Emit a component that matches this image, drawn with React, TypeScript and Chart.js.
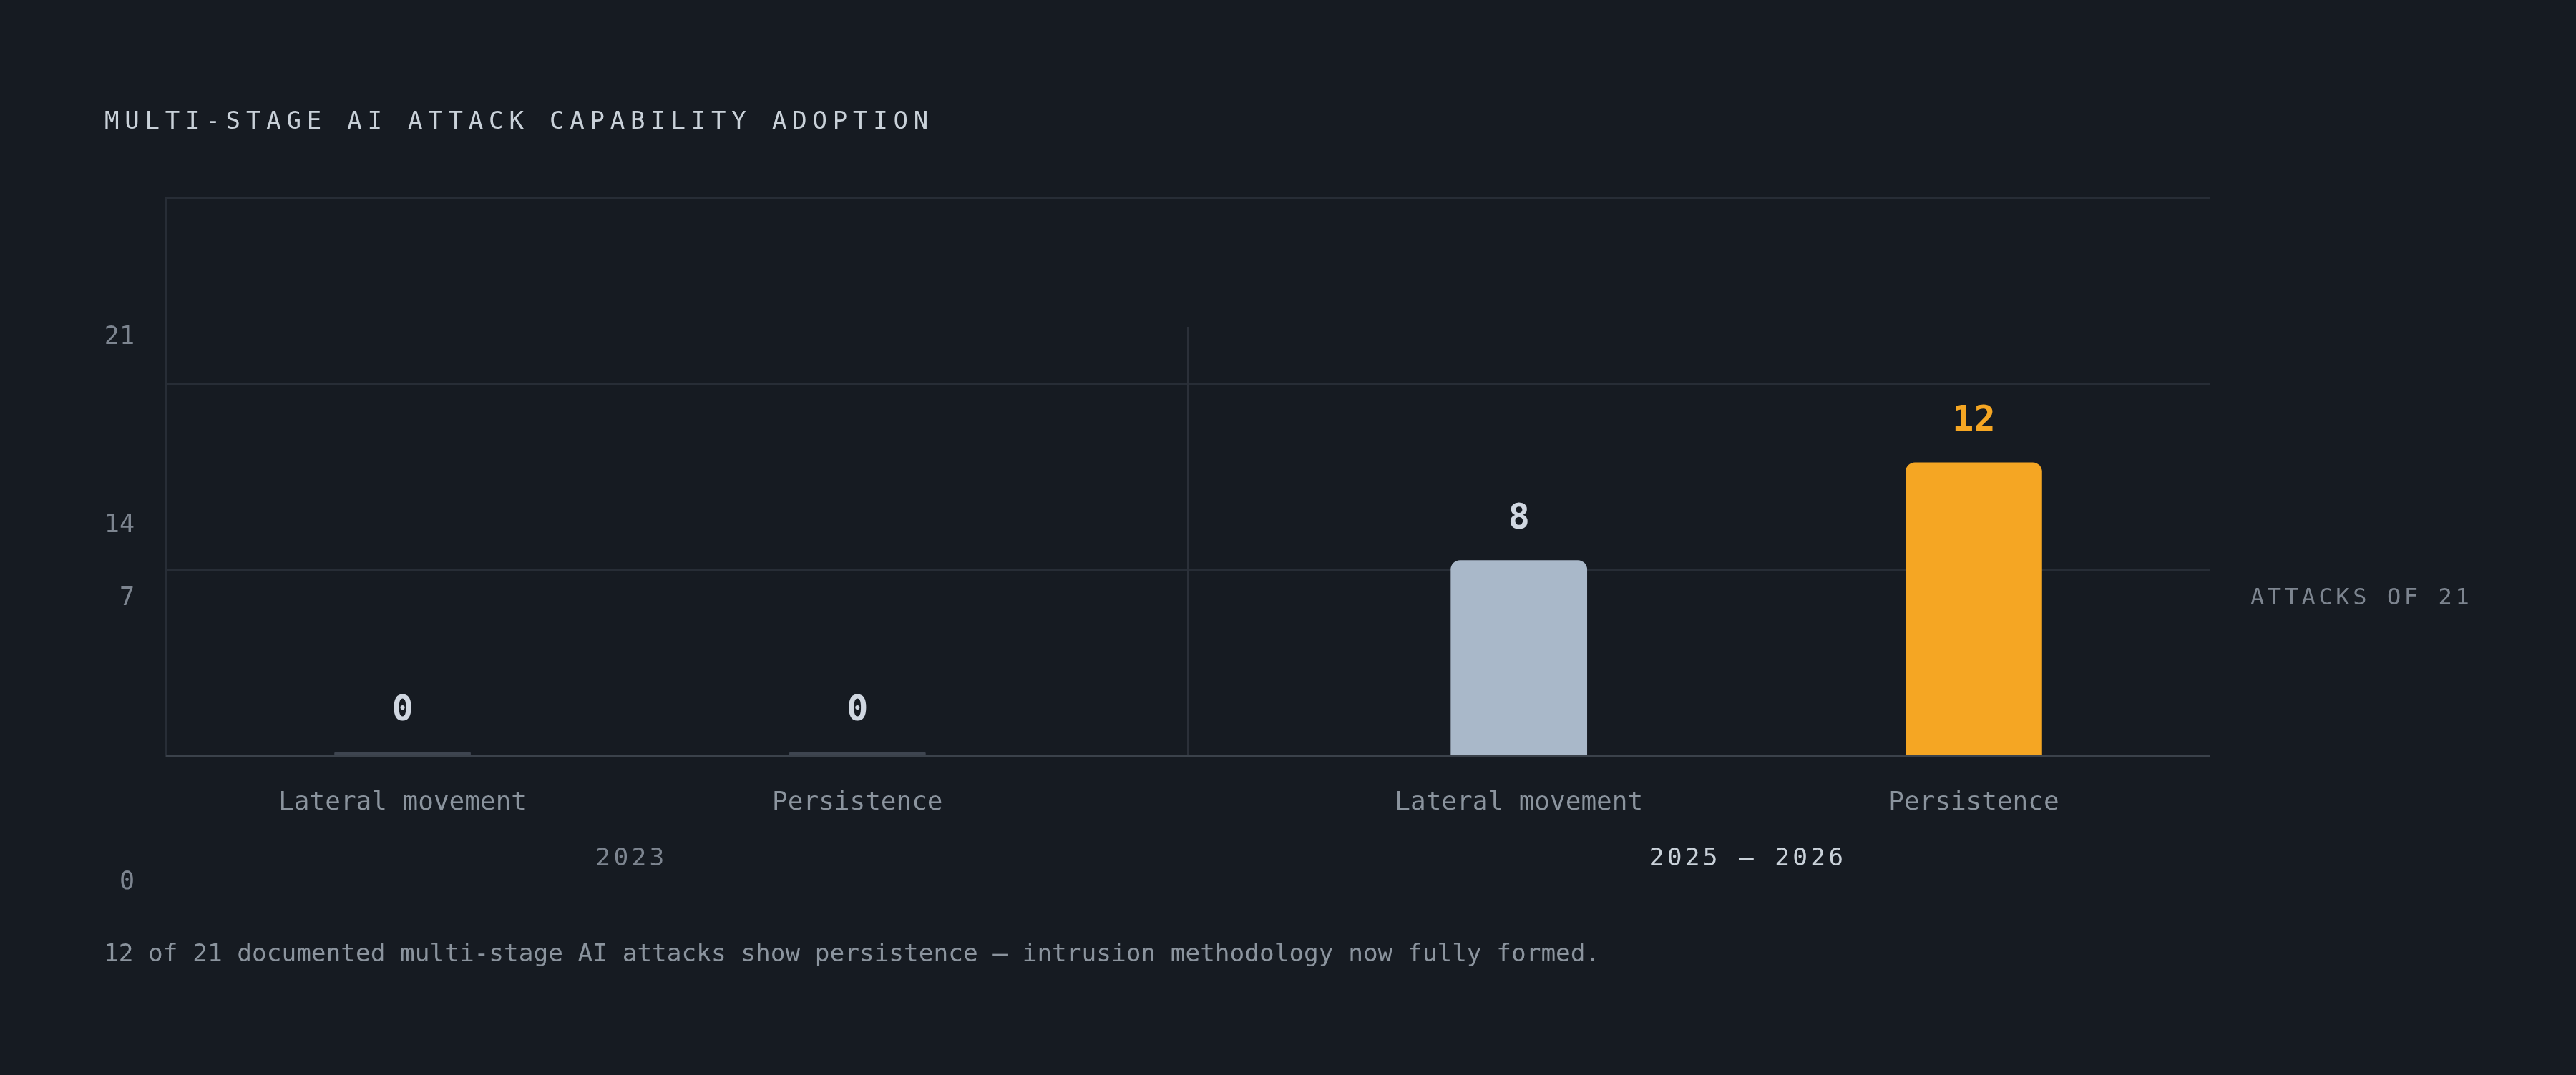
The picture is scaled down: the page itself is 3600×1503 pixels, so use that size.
import React, { useEffect, useRef } from "react";
import Chart from "chart.js/auto";

// --- data ---
const groups = ["2023", "2025 – 2026"];
const categories = ["Lateral movement", "Persistence"];
const values2023 = [0, 0];
const values2026 = [8, 12];
const yTickLabels = ["21", "14", "7", "0"];
const title = "MULTI-STAGE AI ATTACK CAPABILITY ADOPTION";
const unitLabel = "ATTACKS OF 21";
const caption =
  "12 of 21 documented multi-stage AI attacks show persistence — intrusion methodology now fully formed.";

const series = [values2023, values2026];

// --- look ---
const FONT = '"DejaVu Sans Mono", "Liberation Mono", monospace';
const BG = "#161b22";
const GRID = "#272d36";
const DIVIDER = "#2b3039";
const AXIS = "#3b424b";
const MUTED = "#7d8590";
const LABEL = "#8b949e";
const LIGHT = "#d0d7e1";
const TITLE = "#c9d1d9";
const SLATE = "#a9b8c9";
const ACCENT = "#f5a623";
const ZERO = "#3e4550";
const categoryColors = [SLATE, ACCENT];

const GROUP_GAP = 0.454; // extra space between the two year groups (in bar slots)
const EDGE = 0.52;
const Y_MAX = 22.8;

// baseline for html text with line-height 1 (DejaVu metrics)
const topFor = (baseline: number, size: number) => baseline - 0.846 * size;

const App: React.FC = () => {
  const chartRef = useRef<HTMLCanvasElement | null>(null);
  const chartInstance = useRef<Chart | null>(null);

  useEffect(() => {
    if (!chartRef.current) return;
    if (chartInstance.current) chartInstance.current.destroy();

    const points: { x: number; y: number }[] = [];
    const colors: string[] = [];
    groups.forEach((_, gi) => {
      categories.forEach((_, ci) => {
        const v = series[gi][ci];
        points.push({ x: gi * (categories.length + GROUP_GAP) + ci, y: v });
        colors.push(v === 0 ? ZERO : categoryColors[ci]);
      });
    });
    const xs = points.map((p) => p.x);

    const overlay = {
      id: "overlay",
      beforeDatasetsDraw(chart: any) {
        const { ctx, chartArea, scales } = chart;
        ctx.save();
        // divider between the year groups
        const mid = scales.x.getPixelForValue((xs[1] + xs[2]) / 2);
        ctx.strokeStyle = DIVIDER;
        ctx.lineWidth = 3;
        ctx.beginPath();
        ctx.moveTo(mid, chartArea.top + 180);
        ctx.lineTo(mid, chartArea.bottom);
        ctx.stroke();
        // baseline
        ctx.strokeStyle = AXIS;
        ctx.lineWidth = 3;
        ctx.beginPath();
        ctx.moveTo(chartArea.left, chartArea.bottom + 0.5);
        ctx.lineTo(chartArea.right, chartArea.bottom + 0.5);
        ctx.stroke();
        ctx.restore();
      },
      afterDatasetsDraw(chart: any) {
        const { ctx, chartArea } = chart;
        const meta = chart.getDatasetMeta(0);
        ctx.save();
        ctx.textAlign = "center";
        ctx.textBaseline = "alphabetic";
        meta.data.forEach((bar: any, i: number) => {
          const v = points[i].y;
          ctx.font = `bold 50px ${FONT}`;
          ctx.fillStyle = colors[i] === ACCENT ? ACCENT : LIGHT;
          ctx.fillText(String(v), bar.x, bar.y - 44);
          ctx.font = `36px ${FONT}`;
          ctx.fillStyle = LABEL;
          ctx.fillText(categories[i % categories.length], bar.x, chartArea.bottom + 75);
        });
        // year group labels
        ctx.font = `34.5px ${FONT}`;
        (ctx as any).letterSpacing = "4.3px";
        groups.forEach((g, gi) => {
          const a = meta.data[gi * categories.length];
          const b = meta.data[gi * categories.length + categories.length - 1];
          ctx.fillStyle = gi === groups.length - 1 ? TITLE : MUTED;
          ctx.fillText(g, (a.x + b.x) / 2 + 2, chartArea.bottom + 153);
        });
        (ctx as any).letterSpacing = "0px";
        ctx.restore();
      },
    };

    chartInstance.current = new Chart(chartRef.current, {
      type: "bar",
      data: {
        datasets: [
          {
            data: points,
            backgroundColor: colors,
            borderRadius: (c: any) => (points[c.dataIndex]?.y === 0 ? 3 : 13),
            minBarLength: 6,
            barPercentage: 0.3,
            categoryPercentage: 1,
          },
        ],
      },
      options: {
        animation: false,
        responsive: false,
        layout: { padding: { left: 232, top: 277, right: 511, bottom: 446 } },
        plugins: { legend: { display: false }, tooltip: { enabled: false } },
        scales: {
          x: {
            type: "linear",
            display: false,
            offset: false,
            grid: { offset: false },
            min: xs[0] - EDGE,
            max: xs[xs.length - 1] + EDGE,
            afterBuildTicks: (s: any) => {
              s.ticks = xs.map((v) => ({ value: v }));
            },
          },
          y: {
            min: 0,
            max: Y_MAX,
            afterBuildTicks: (s: any) => {
              s.ticks = [0, 1, 2, 3].map((k) => ({ value: (Y_MAX * k) / 3 }));
            },
            ticks: { display: false },
            grid: { color: GRID, lineWidth: 2, drawTicks: false },
            border: { display: true, color: GRID, width: 2 },
          },
        },
      },
      plugins: [overlay],
    } as any);

    return () => {
      if (chartInstance.current) {
        chartInstance.current.destroy();
        chartInstance.current = null;
      }
    };
  }, []);

  // the y labels sit where the original put them, not on the gridlines
  const yLabelBaselines = [482, 745, 847, 1244];

  return (
    <div
      style={{
        position: "fixed",
        inset: 0,
        background: BG,
        overflow: "hidden",
        fontFamily: FONT,
      }}
    >
      <canvas
        ref={chartRef}
        width={3600}
        height={1503}
        style={{ position: "absolute", left: 0, top: 0 }}
      ></canvas>
      <div
        style={{
          position: "absolute",
          left: 146,
          top: topFor(180, 34),
          fontSize: 34,
          lineHeight: 1,
          letterSpacing: "7.8px",
          color: TITLE,
          whiteSpace: "nowrap",
        }}
      >
        {title}
      </div>
      {yTickLabels.map((t, i) => (
        <div
          key={t}
          style={{
            position: "absolute",
            left: 88,
            width: 100,
            textAlign: "right",
            top: topFor(yLabelBaselines[i], 35),
            fontSize: 35,
            lineHeight: 1,
            color: MUTED,
          }}
        >
          {t}
        </div>
      ))}
      <div
        style={{
          position: "absolute",
          left: 3145,
          top: topFor(845, 32),
          fontSize: 32,
          lineHeight: 1,
          letterSpacing: "4.6px",
          color: MUTED,
          whiteSpace: "nowrap",
        }}
      >
        {unitLabel}
      </div>
      <div
        style={{
          position: "absolute",
          left: 145,
          top: topFor(1344, 34.5),
          fontSize: 34.4,
          lineHeight: 1,
          color: LABEL,
          whiteSpace: "nowrap",
        }}
      >
        {caption}
      </div>
    </div>
  );
};

export default App;
